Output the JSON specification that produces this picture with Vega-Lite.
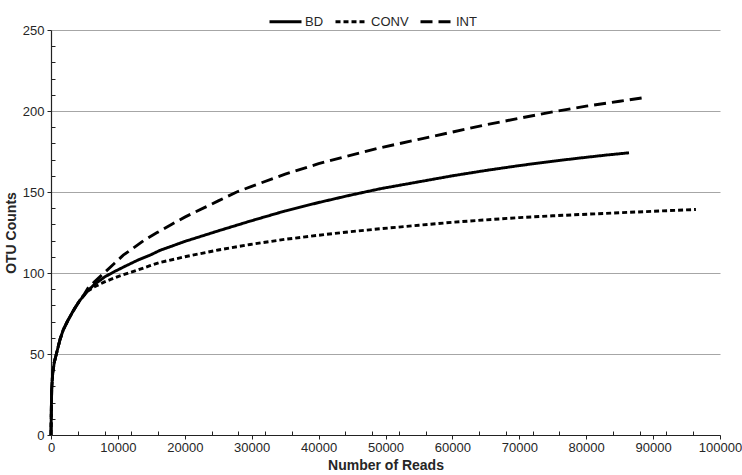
{
  "$schema": "https://vega.github.io/schema/vega-lite/v6.json",
  "width": 669,
  "height": 405,
  "autosize": {"type": "none"},
  "padding": {"left": 51, "top": 30, "right": 22, "bottom": 40},
  "background": "white",
  "config": {
    "view": {"stroke": null},
    "font": "Liberation Sans",
    "axis": {"labelFont": "Liberation Sans", "titleFont": "Liberation Sans", "labelColor": "#262626", "titleColor": "#262626"}
  },
  "data": {"values": [
    {"sample": "BD", "reads": 0, "otu": 0},
    {"sample": "BD", "reads": 30, "otu": 10},
    {"sample": "BD", "reads": 100, "otu": 28},
    {"sample": "BD", "reads": 250, "otu": 38},
    {"sample": "BD", "reads": 500, "otu": 45},
    {"sample": "BD", "reads": 800, "otu": 50},
    {"sample": "BD", "reads": 1350, "otu": 59},
    {"sample": "BD", "reads": 1840, "otu": 65},
    {"sample": "BD", "reads": 2500, "otu": 70.5},
    {"sample": "BD", "reads": 3100, "otu": 75},
    {"sample": "BD", "reads": 3600, "otu": 78.5},
    {"sample": "BD", "reads": 4300, "otu": 83},
    {"sample": "BD", "reads": 5000, "otu": 86.5},
    {"sample": "BD", "reads": 5500, "otu": 89},
    {"sample": "BD", "reads": 6500, "otu": 93},
    {"sample": "BD", "reads": 8000, "otu": 97.5},
    {"sample": "BD", "reads": 9300, "otu": 100.5},
    {"sample": "BD", "reads": 11000, "otu": 104},
    {"sample": "BD", "reads": 13000, "otu": 108},
    {"sample": "BD", "reads": 14800, "otu": 111},
    {"sample": "BD", "reads": 16300, "otu": 114},
    {"sample": "BD", "reads": 18000, "otu": 116.5},
    {"sample": "BD", "reads": 20000, "otu": 119.5},
    {"sample": "BD", "reads": 25000, "otu": 126},
    {"sample": "BD", "reads": 29750, "otu": 132},
    {"sample": "BD", "reads": 35000, "otu": 138.3},
    {"sample": "BD", "reads": 40000, "otu": 143.5},
    {"sample": "BD", "reads": 44700, "otu": 148},
    {"sample": "BD", "reads": 49200, "otu": 152},
    {"sample": "BD", "reads": 55000, "otu": 156.3},
    {"sample": "BD", "reads": 60000, "otu": 160},
    {"sample": "BD", "reads": 65000, "otu": 163.3},
    {"sample": "BD", "reads": 70000, "otu": 166.3},
    {"sample": "BD", "reads": 75000, "otu": 169},
    {"sample": "BD", "reads": 79100, "otu": 171},
    {"sample": "BD", "reads": 83000, "otu": 172.8},
    {"sample": "BD", "reads": 86400, "otu": 174.2},
    {"sample": "CONV", "reads": 0, "otu": 0},
    {"sample": "CONV", "reads": 30, "otu": 10},
    {"sample": "CONV", "reads": 100, "otu": 28},
    {"sample": "CONV", "reads": 250, "otu": 38},
    {"sample": "CONV", "reads": 500, "otu": 45},
    {"sample": "CONV", "reads": 800, "otu": 50},
    {"sample": "CONV", "reads": 1350, "otu": 59},
    {"sample": "CONV", "reads": 1840, "otu": 65},
    {"sample": "CONV", "reads": 2500, "otu": 70.5},
    {"sample": "CONV", "reads": 3100, "otu": 75},
    {"sample": "CONV", "reads": 3600, "otu": 78.5},
    {"sample": "CONV", "reads": 4300, "otu": 83},
    {"sample": "CONV", "reads": 5000, "otu": 86.5},
    {"sample": "CONV", "reads": 5500, "otu": 88.8},
    {"sample": "CONV", "reads": 6500, "otu": 91.5},
    {"sample": "CONV", "reads": 8000, "otu": 94.5},
    {"sample": "CONV", "reads": 10000, "otu": 97.8},
    {"sample": "CONV", "reads": 12000, "otu": 100.5},
    {"sample": "CONV", "reads": 14800, "otu": 104.5},
    {"sample": "CONV", "reads": 16300, "otu": 106.5},
    {"sample": "CONV", "reads": 20000, "otu": 110},
    {"sample": "CONV", "reads": 25000, "otu": 114.2},
    {"sample": "CONV", "reads": 29750, "otu": 117.6},
    {"sample": "CONV", "reads": 35000, "otu": 120.8},
    {"sample": "CONV", "reads": 40000, "otu": 123.3},
    {"sample": "CONV", "reads": 44700, "otu": 125.5},
    {"sample": "CONV", "reads": 49200, "otu": 127.3},
    {"sample": "CONV", "reads": 55000, "otu": 129.5},
    {"sample": "CONV", "reads": 60000, "otu": 131.3},
    {"sample": "CONV", "reads": 65000, "otu": 132.8},
    {"sample": "CONV", "reads": 70000, "otu": 134.2},
    {"sample": "CONV", "reads": 75000, "otu": 135.3},
    {"sample": "CONV", "reads": 79100, "otu": 136.1},
    {"sample": "CONV", "reads": 85000, "otu": 137.2},
    {"sample": "CONV", "reads": 90000, "otu": 138.1},
    {"sample": "CONV", "reads": 96400, "otu": 139.2},
    {"sample": "INT", "reads": 0, "otu": 0},
    {"sample": "INT", "reads": 30, "otu": 10},
    {"sample": "INT", "reads": 100, "otu": 28},
    {"sample": "INT", "reads": 250, "otu": 38},
    {"sample": "INT", "reads": 500, "otu": 45},
    {"sample": "INT", "reads": 800, "otu": 50},
    {"sample": "INT", "reads": 1350, "otu": 59},
    {"sample": "INT", "reads": 1840, "otu": 65},
    {"sample": "INT", "reads": 2500, "otu": 70.5},
    {"sample": "INT", "reads": 3100, "otu": 75},
    {"sample": "INT", "reads": 3600, "otu": 78.5},
    {"sample": "INT", "reads": 4300, "otu": 83},
    {"sample": "INT", "reads": 5000, "otu": 87},
    {"sample": "INT", "reads": 5500, "otu": 90.5},
    {"sample": "INT", "reads": 6500, "otu": 94.5},
    {"sample": "INT", "reads": 8000, "otu": 100.3},
    {"sample": "INT", "reads": 9500, "otu": 106},
    {"sample": "INT", "reads": 10800, "otu": 111},
    {"sample": "INT", "reads": 12500, "otu": 116},
    {"sample": "INT", "reads": 14000, "otu": 120.5},
    {"sample": "INT", "reads": 15800, "otu": 124.8},
    {"sample": "INT", "reads": 18000, "otu": 130},
    {"sample": "INT", "reads": 20000, "otu": 134.5},
    {"sample": "INT", "reads": 23000, "otu": 140.5},
    {"sample": "INT", "reads": 25000, "otu": 144.5},
    {"sample": "INT", "reads": 27760, "otu": 150},
    {"sample": "INT", "reads": 30000, "otu": 153.5},
    {"sample": "INT", "reads": 35000, "otu": 161},
    {"sample": "INT", "reads": 40000, "otu": 167.5},
    {"sample": "INT", "reads": 43700, "otu": 171.5},
    {"sample": "INT", "reads": 49200, "otu": 177.3},
    {"sample": "INT", "reads": 55000, "otu": 182.5},
    {"sample": "INT", "reads": 60000, "otu": 187},
    {"sample": "INT", "reads": 65000, "otu": 191.5},
    {"sample": "INT", "reads": 70000, "otu": 195.5},
    {"sample": "INT", "reads": 75000, "otu": 199.5},
    {"sample": "INT", "reads": 80000, "otu": 203},
    {"sample": "INT", "reads": 85000, "otu": 206},
    {"sample": "INT", "reads": 88300, "otu": 208}
  ]},
  "resolve": {"axis": {"x": "independent", "y": "independent"}},
  "layer": [
    {
      "mark": {"type": "line", "opacity": 0},
      "encoding": {
        "x": {"field": "reads", "type": "quantitative", "scale": {"domain": [0, 100000], "nice": false, "zero": true},
          "axis": {"orient": "bottom", "values": [4000, 8000, 12000, 16000, 24000, 28000, 32000, 36000, 44000, 48000, 52000, 56000, 64000, 68000, 72000, 76000, 84000, 88000, 92000, 96000], "labels": false, "domain": false, "grid": false, "title": null, "tickSize": -4, "tickColor": "#222", "tickWidth": 1}},
        "y": {"field": "otu", "type": "quantitative", "scale": {"domain": [0, 250], "nice": false},
          "axis": {"orient": "left", "values": [10, 20, 30, 40, 60, 70, 80, 90, 110, 120, 130, 140, 160, 170, 180, 190, 210, 220, 230, 240], "labels": false, "domain": false, "grid": false, "title": null, "tickSize": -4, "tickColor": "#222", "tickWidth": 1}},
        "detail": {"field": "sample"}
      }
    },
    {
      "mark": {"type": "line", "color": "black", "strokeWidth": 2.9, "strokeCap": "butt"},
      "encoding": {
        "x": {"field": "reads", "type": "quantitative", "scale": {"domain": [0, 100000], "nice": false, "zero": true},
          "axis": {"orient": "bottom", "title": "Number of Reads", "values": [0, 10000, 20000, 30000, 40000, 50000, 60000, 70000, 80000, 90000, 100000], "format": "d", "grid": false, "domainColor": "#222", "domainWidth": 1.2, "tickColor": "#222", "tickSize": 4, "labelFontSize": 13, "labelPadding": 2, "titleFontSize": 14, "titleFontWeight": "bold", "titlePadding": 4, "labelFlush": false}},
        "y": {"field": "otu", "type": "quantitative", "scale": {"domain": [0, 250], "nice": false},
          "axis": {"orient": "left", "title": "OTU Counts", "values": [0, 50, 100, 150, 200, 250], "grid": true, "gridColor": "#a6a6a6", "gridWidth": 1, "domainColor": "#222", "domainWidth": 1.2, "tickColor": "#222", "tickSize": 4, "labelFontSize": 13, "labelPadding": 3, "titleFontSize": 14, "titleFontWeight": "bold", "titlePadding": 4}},
        "strokeDash": {"field": "sample", "type": "nominal",
          "scale": {"domain": ["BD", "CONV", "INT"], "range": [[1, 0], [5, 3], [12, 6]]},
          "legend": {"title": null, "orient": "none", "direction": "horizontal", "legendX": 217, "legendY": -26, "padding": 0,
            "symbolType": "stroke", "symbolSize": 1024, "symbolStrokeWidth": 2.9, "symbolStrokeColor": "black",
            "labelFont": "Liberation Sans", "labelFontSize": 13, "labelColor": "#262626", "labelOffset": 2, "columnPadding": 5}}
      }
    }
  ]
}
